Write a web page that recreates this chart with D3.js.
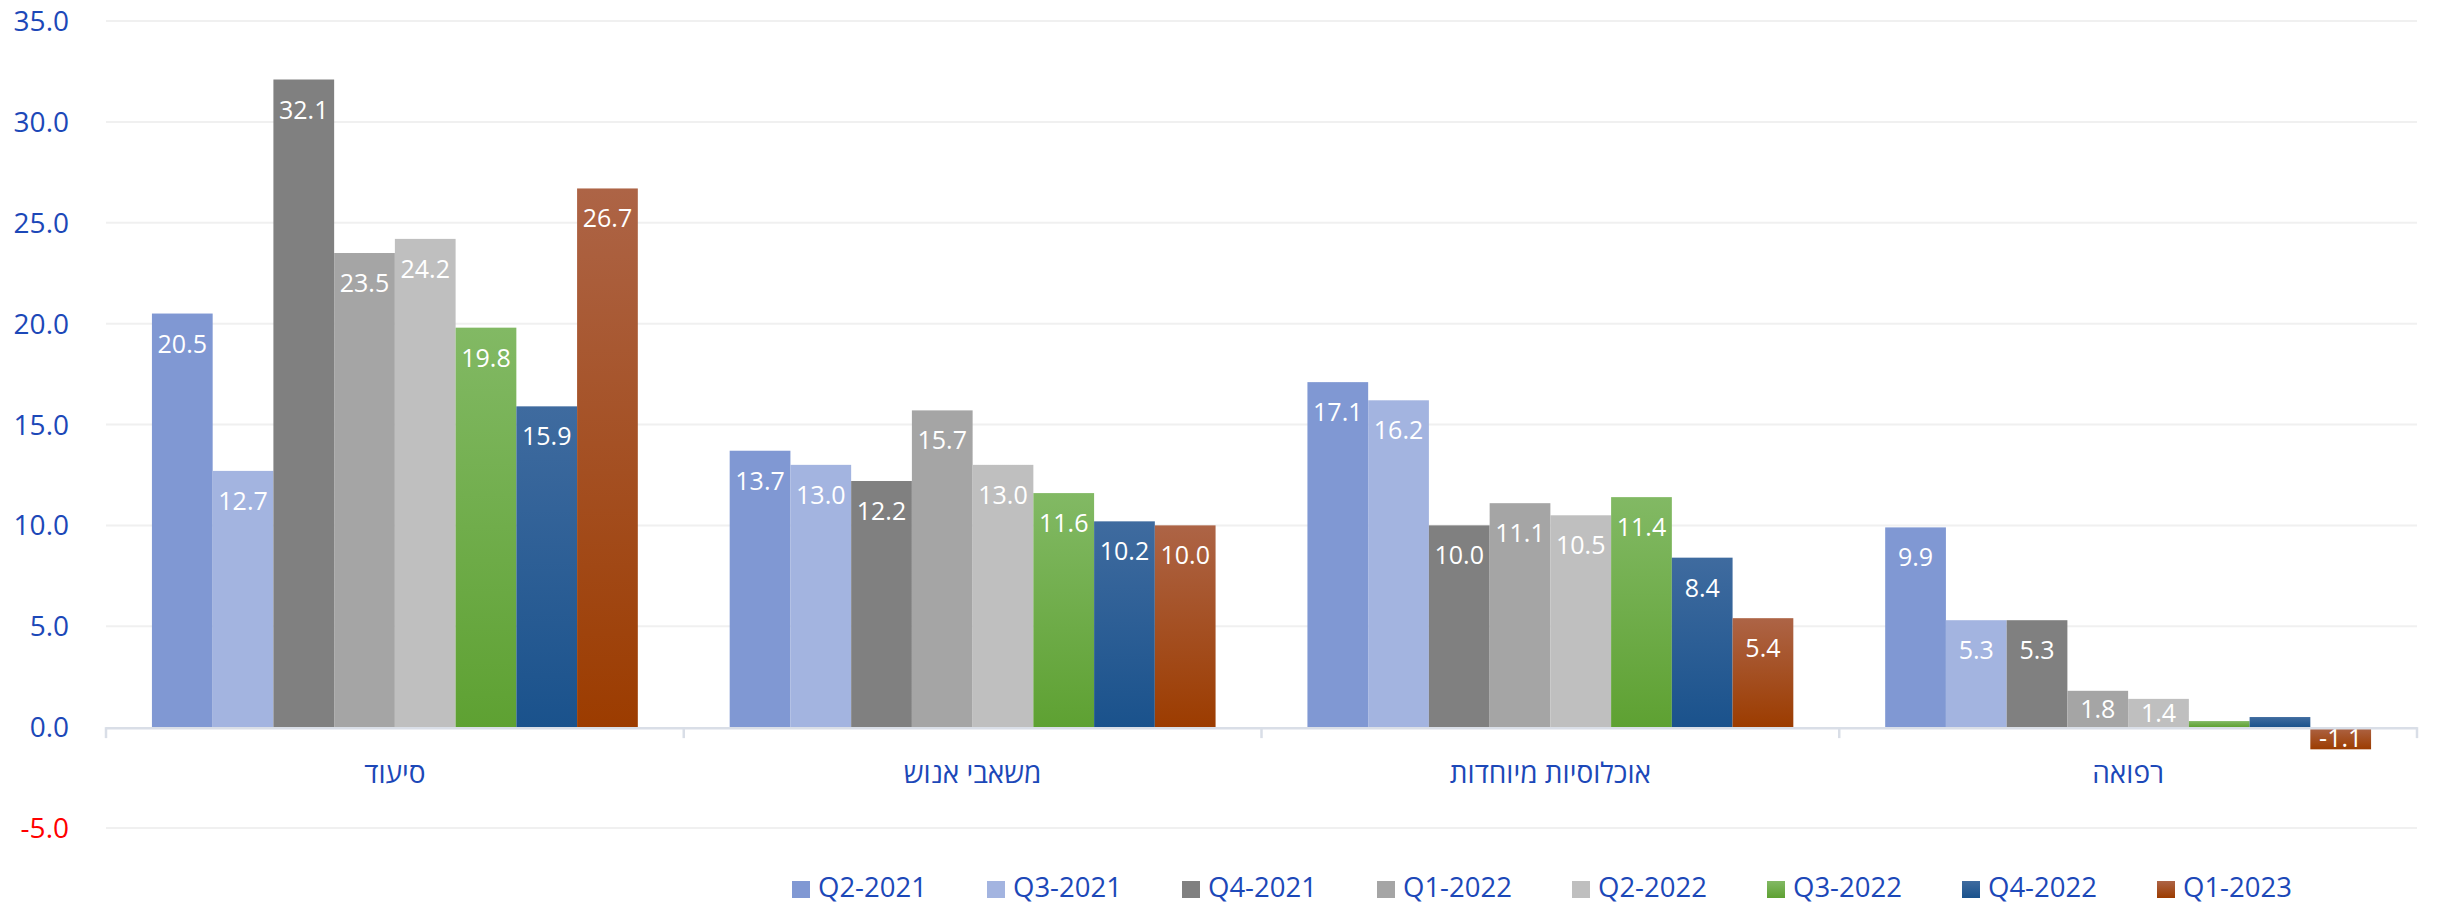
<!DOCTYPE html>
<html>
<head>
<meta charset="utf-8">
<script src="https://cdn.jsdelivr.net/npm/d3@7"></script>
<style>
  body { margin: 0; background: #fff; }
  svg { display: block; }
</style>
</head>
<body>
<div id="chart"></div>
<script>
// categories (left to right) and series
var categories = ["סיעוד", "משאבי אנוש", "אוכלוסיות מיוחדות", "רפואה"];
var seriesNames = ["Q2-2021", "Q3-2021", "Q4-2021", "Q1-2022", "Q2-2022", "Q3-2022", "Q4-2022", "Q1-2023"];

// one array per series, values follow categories order
var q2_2021 = [20.5, 13.7, 17.1, 9.9];
var q3_2021 = [12.7, 13.0, 16.2, 5.3];
var q4_2021 = [32.1, 12.2, 10.0, 5.3];
var q1_2022 = [23.5, 15.7, 11.1, 1.8];
var q2_2022 = [24.2, 13.0, 10.5, 1.4];
var q3_2022 = [19.8, 11.6, 11.4, 0.3];
var q4_2022 = [15.9, 10.2, 8.4, 0.5];
var q1_2023 = [26.7, 10.0, 5.4, -1.1];

var yTicks = [-5, 0, 5, 10, 15, 20, 25, 30, 35];

var seriesValues = [q2_2021, q3_2021, q4_2021, q1_2022, q2_2022, q3_2022, q4_2022, q1_2023];

// fill colours; gradients for the last three
var seriesColors = [
    {top: "#8098d3", bottom: "#8098d3"},
    {top: "#a3b4e0", bottom: "#a3b4e0"},
    {top: "#808080", bottom: "#808080"},
    {top: "#a5a5a5", bottom: "#a5a5a5"},
    {top: "#bfbfbf", bottom: "#bfbfbf"},
    {top: "#82b964", bottom: "#5ea132"},
    {top: "#3f6b9f", bottom: "#1a528c"},
    {top: "#ad6446", bottom: "#9c3c00"}
];

var width = 2437, height = 904;
var plot = {left: 106, right: 2417, top: 21, bottom: 828};
var textBlue = "#1c48b8";

var svg = d3.select("#chart")
    .append("svg")
    .attr("width", width)
    .attr("height", height);

var defs = svg.append("defs");
seriesColors.forEach(function (c, i) {
    var g = defs.append("linearGradient")
        .attr("id", "grad" + i)
        .attr("x1", 0).attr("y1", 0).attr("x2", 0).attr("y2", 1);
    g.append("stop").attr("offset", "0%").attr("stop-color", c.top);
    g.append("stop").attr("offset", "100%").attr("stop-color", c.bottom);
});

var y = d3.scaleLinear()
    .domain([-5, 35])
    .range([plot.bottom, plot.top]);

var x0 = d3.scaleBand()
    .domain(categories)
    .range([plot.left, plot.right])
    .paddingInner(0.159)
    .paddingOuter(0.0795);

var x1 = d3.scaleBand()
    .domain(seriesNames)
    .range([0, x0.bandwidth()])
    .padding(0);

// gridlines
svg.append("g")
    .attr("class", "grid")
    .selectAll("line")
    .data(yTicks.filter(function (d) { return d !== 0; }))
    .enter().append("line")
    .attr("x1", plot.left)
    .attr("x2", plot.right)
    .attr("y1", function (d) { return y(d); })
    .attr("y2", function (d) { return y(d); })
    .attr("stroke", "#f0f0f0")
    .attr("stroke-width", 2);

// y labels
svg.append("g")
    .attr("class", "y-labels")
    .selectAll("text")
    .data(yTicks)
    .enter().append("text")
    .attr("x", 69)
    .attr("y", function (d) { return y(d) + 10; })
    .attr("text-anchor", "end")
    .attr("font-family", "Open Sans, sans-serif")
    .attr("font-size", 28)
    .attr("fill", function (d) { return d < 0 ? "#ff0000" : textBlue; })
    .text(function (d) { return d.toFixed(1); });

// bars
var groups = svg.append("g")
    .attr("class", "bars")
    .selectAll("g")
    .data(seriesNames)
    .enter().append("g")
    .attr("fill", function (d, i) { return "url(#grad" + i + ")"; });

groups.selectAll("rect")
    .data(function (s, i) {
        return categories.map(function (c, j) {
            return {series: s, cat: c, value: seriesValues[i][j]};
        });
    })
    .enter().append("rect")
    .attr("x", function (d) { return x0(d.cat) + x1(d.series); })
    .attr("width", x1.bandwidth())
    .attr("y", function (d) { return y(Math.max(0, d.value)); })
    .attr("height", function (d) { return Math.abs(y(d.value) - y(0)); });

// data labels, inside end
groups.selectAll("text")
    .data(function (s, i) {
        return categories.map(function (c, j) {
            return {series: s, cat: c, value: seriesValues[i][j]};
        }).filter(function (d) { return Math.abs(d.value) >= 1; });
    })
    .enter().append("text")
    .attr("x", function (d) { return x0(d.cat) + x1(d.series) + x1.bandwidth() / 2; })
    .attr("y", function (d) {
        var top = y(Math.max(0, d.value)), bottom = y(Math.min(0, d.value));
        var mid = (top + bottom) / 2;
        if (d.value >= 0) return Math.min(top + 30, mid) + 9;
        return Math.max(bottom - 30, mid) + 9;
    })
    .attr("text-anchor", "middle")
    .attr("font-family", "Open Sans, sans-serif")
    .attr("font-size", 25)
    .attr("fill", "#ffffff")
    .text(function (d) { return d.value.toFixed(1); });

// zero axis with category ticks
var axis = svg.append("g").attr("class", "x-axis");
axis.append("line")
    .attr("x1", plot.left)
    .attr("x2", plot.right)
    .attr("y1", y(0) + 1)
    .attr("y2", y(0) + 1)
    .attr("stroke", "#d9dee7")
    .attr("stroke-width", 2.5);

var bounds = categories.map(function (c) { return x0(c) - x0.step() * 0.0795; });
bounds.push(plot.right);
axis.selectAll("line.tick")
    .data(bounds)
    .enter().append("line")
    .attr("class", "tick")
    .attr("x1", function (d) { return d; })
    .attr("x2", function (d) { return d; })
    .attr("y1", y(0))
    .attr("y2", y(0) + 11)
    .attr("stroke", "#d9dee7")
    .attr("stroke-width", 2.5);

axis.selectAll("text")
    .data(categories)
    .enter().append("text")
    .attr("x", function (d) { return x0(d) + x0.bandwidth() / 2; })
    .attr("y", 783)
    .attr("text-anchor", "middle")
    .attr("font-family", "Open Sans, sans-serif")
    .attr("font-size", 28)
    .attr("fill", textBlue)
    .text(function (d) { return d; });

// legend
var legend = svg.append("g")
    .attr("class", "legend")
    .selectAll("g")
    .data(seriesNames)
    .enter().append("g")
    .attr("transform", function (d, i) { return "translate(" + (792 + i * 195) + ",0)"; });

legend.append("rect")
    .attr("x", 0)
    .attr("y", 881)
    .attr("width", 18)
    .attr("height", 17)
    .attr("fill", function (d, i) { return "url(#grad" + i + ")"; });

legend.append("text")
    .attr("x", 26)
    .attr("y", 897)
    .attr("font-family", "Open Sans, sans-serif")
    .attr("font-size", 27.5)
    .attr("fill", textBlue)
    .text(function (d) { return d; });
</script>
</body>
</html>
